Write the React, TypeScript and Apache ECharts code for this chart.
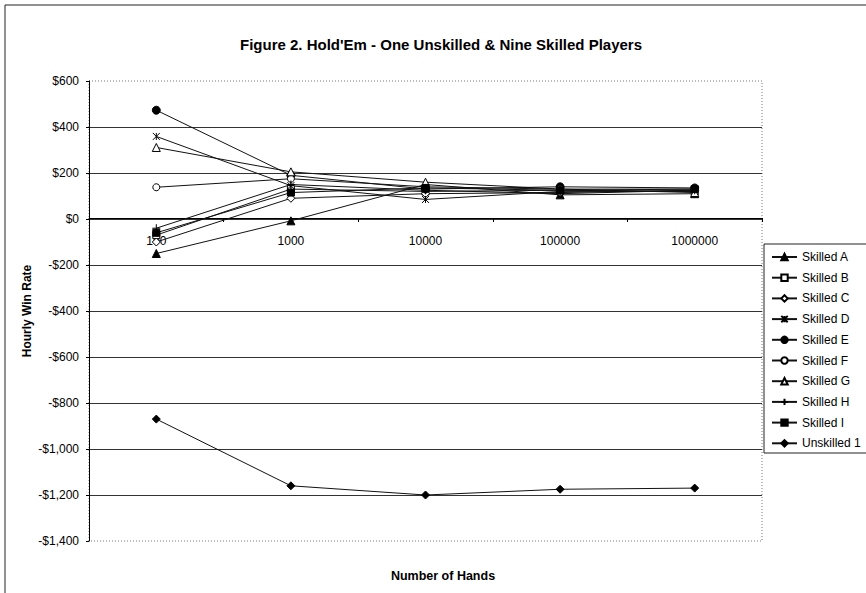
import React, { useEffect, useRef } from "react";
import * as echarts from "echarts";

const categories = ["100", "1000", "10000", "100000", "1000000"];

const skilledA = [-150, -8, 150, 105, 110];
const skilledB = [-70, 130, 120, 125, 120];
const skilledC = [-100, 90, 110, 115, 125];
const skilledD = [359, 145, 85, 120, 120];
const skilledE = [473, 190, 130, 140, 135];
const skilledF = [138, 175, 140, 130, 130];
const skilledG = [311, 205, 160, 130, 115];
const skilledH = [-40, 150, 125, 110, 125];
const skilledI = [-60, 115, 135, 125, 130];
const unskilled1 = [-870, -1160, -1200, -1175, -1170];

const seriesNames = [
  "Skilled A",
  "Skilled B",
  "Skilled C",
  "Skilled D",
  "Skilled E",
  "Skilled F",
  "Skilled G",
  "Skilled H",
  "Skilled I",
  "Unskilled 1",
];
const seriesValues = [
  skilledA,
  skilledB,
  skilledC,
  skilledD,
  skilledE,
  skilledF,
  skilledG,
  skilledH,
  skilledI,
  unskilled1,
];

const X_PATH = "path://M0,0L10,10M10,0L0,10M5,0L5,10";
const PLUS_PATH = "path://M0,5L10,5M5,0L5,10";

const symbols: { symbol: string; size: number; fill: string }[] = [
  { symbol: "triangle", size: 8, fill: "#000" },
  { symbol: "rect", size: 7, fill: "#fff" },
  { symbol: "diamond", size: 8, fill: "#fff" },
  { symbol: X_PATH, size: 7, fill: "#000" },
  { symbol: "circle", size: 8, fill: "#000" },
  { symbol: "circle", size: 7, fill: "#fff" },
  { symbol: "triangle", size: 8, fill: "#fff" },
  { symbol: PLUS_PATH, size: 8, fill: "#000" },
  { symbol: "rect", size: 7, fill: "#000" },
  { symbol: "diamond", size: 8, fill: "#000" },
];

const FONT = 'Arial, "Liberation Sans", sans-serif';

function fmtMoney(v: number): string {
  const abs = Math.abs(v).toLocaleString("en-US");
  return (v < 0 ? "-$" : "$") + abs;
}

export default function App() {
  const ref = useRef<HTMLDivElement>(null);

  useEffect(() => {
    if (!ref.current) return;
    const chart = echarts.init(ref.current, undefined, { renderer: "svg" });

    const splitColors: string[] = [];
    for (let i = 0; i <= 10; i++) {
      splitColors.push(i === 0 || i === 10 ? "rgba(0,0,0,0)" : "#333");
    }

    chart.setOption({
      animation: false,
      backgroundColor: "#fff",
      title: [
        {
          text: "Figure 2. Hold'Em - One Unskilled & Nine Skilled Players",
          left: 436,
          textAlign: "center",
          top: 32,
          textStyle: { fontFamily: FONT, fontSize: 15, fontWeight: "bold", color: "#000" },
        },
        {
          text: "Number of Hands",
          left: 438,
          textAlign: "center",
          top: 564,
          textStyle: { fontFamily: FONT, fontSize: 12.5, fontWeight: "bold", color: "#000" },
        },
      ],
      legend: {
        orient: "vertical",
        left: 766,
        top: 246,
        itemWidth: 25,
        itemHeight: 8,
        itemGap: 8.7,
        data: seriesNames,
        textStyle: { fontFamily: FONT, fontSize: 12, color: "#000" },
      },
      grid: {
        left: 89,
        right: 104,
        top: 81,
        bottom: 52,
        containLabel: false,
      },
      graphic: [
        {
          type: "rect",
          shape: { x: 5, y: 5, width: 880, height: 600 },
          style: { fill: "none", stroke: "#222", lineWidth: 1 },
          silent: true,
        },
        {
          type: "rect",
          shape: { x: 89, y: 81, width: 673, height: 460 },
          style: { fill: "none", stroke: "#777", lineWidth: 1, lineDash: [1, 2] },
          silent: true,
          z: -1,
        },
        {
          type: "rect",
          shape: { x: 764, y: 244, width: 120, height: 209 },
          style: { fill: "none", stroke: "#222", lineWidth: 1 },
          silent: true,
        },
      ],
      xAxis: {
        type: "category",
        data: categories,
        boundaryGap: true,
        position: "bottom",
        offset: -323,
        axisLine: { onZero: false, lineStyle: { color: "#000", width: 1 } },
        axisTick: { show: true, length: 4, lineStyle: { color: "#000" } },
        axisLabel: { fontFamily: FONT, fontSize: 12, color: "#000", margin: 17 },
        splitLine: { show: false },
      },
      yAxis: {
        type: "value",
        min: -1400,
        max: 600,
        interval: 200,
        name: "Hourly Win Rate",
        nameLocation: "middle",
        nameGap: 56,
        nameMoveOverlap: false,
        nameRotate: 90,
        nameTextStyle: { fontFamily: FONT, fontSize: 12, fontWeight: "bold", color: "#000" },
        axisLine: { show: true, lineStyle: { color: "#000", width: 1 } },
        axisTick: { show: true, length: 3, lineStyle: { color: "#000" } },
        axisLabel: {
          fontFamily: FONT,
          fontSize: 12,
          color: "#000",
          margin: 10,
          formatter: (v: number) => fmtMoney(v),
        },
        splitLine: { show: true, lineStyle: { color: splitColors, width: 1 } },
      },
      series: seriesNames.map((name, i) => ({
        name,
        type: "line",
        data: seriesValues[i],
        symbol: symbols[i].symbol,
        symbolSize: symbols[i].size,
        showAllSymbol: true,
        lineStyle: { color: "#111", width: 1 },
        itemStyle: {
          color: symbols[i].fill,
          borderColor: "#000",
          borderWidth: 1,
        },
        emphasis: { disabled: true },
      })),
    });

    return () => chart.dispose();
  }, []);

  return (
    <div
      ref={ref}
      style={{ position: "fixed", left: 0, top: 0, width: 866, height: 593 }}
    />
  );
}
